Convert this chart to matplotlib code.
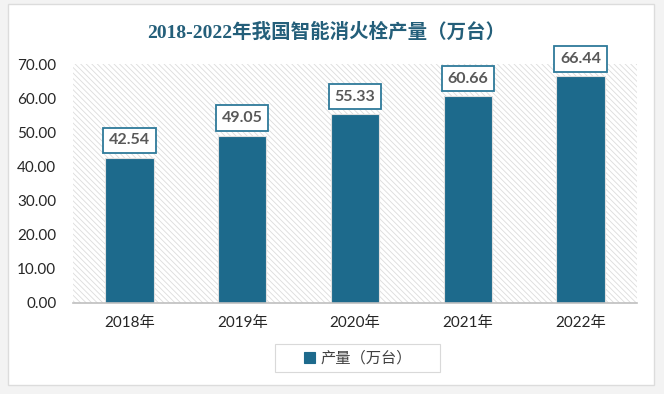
import matplotlib
matplotlib.use("Agg")
import matplotlib.pyplot as plt
import numpy as np
from matplotlib.patches import Rectangle

# data
years = ["2018年", "2019年", "2020年", "2021年", "2022年"]
output = [42.54, 49.05, 55.33, 60.66, 66.44]
series_name = "产量（万台）"
title = "2018-2022年我国智能消火栓产量（万台）"

bar_color = "#1D6A8C"
title_color = "#245F7A"
num_font = ["Lato", "Noto Sans CJK SC"]

plt.rcParams["hatch.linewidth"] = 0.6
plt.rcParams["hatch.color"] = "#dcdcdc"

W, H = 664, 394
fig = plt.figure(figsize=(6.64, 3.94), dpi=100, facecolor="#f3f3f3")


def fig_rect(x0, y0, x1, y1, **kw):
    # rectangle given in image pixel coordinates (top-left origin)
    return Rectangle((x0 / W, 1 - y1 / H), (x1 - x0) / W, (y1 - y0) / H,
                     transform=fig.transFigure, **kw)


# white card with light border
fig.patches.append(fig_rect(8, 4, 654, 385, facecolor="white",
                            edgecolor="#dcdcdc", linewidth=1.0, zorder=-10))

ax = fig.add_axes([73 / W, 1 - 303 / H, 564 / W, 239 / H])
ax.set_facecolor("none")

# hatched plot background
ax.add_patch(Rectangle((0, 0), 1, 1, transform=ax.transAxes, facecolor="white",
                       edgecolor="#dcdcdc", hatch="\\" * 6, linewidth=0, zorder=0))

x = np.arange(len(years))
bars = ax.bar(x, output, width=0.43, color=bar_color, edgecolor="#e0e0e0",
              linewidth=0.8, zorder=2, label=series_name)

for xi, v in zip(x, output):
    ax.annotate(f"{v:.2f}", (xi, v), xytext=(0, 12.5), textcoords="offset points",
                ha="center", va="center", fontsize=11.5, fontweight="bold",
                color="#595959", family=num_font, zorder=4,
                bbox=dict(boxstyle="square,pad=0.36", facecolor="white",
                          edgecolor="#2E7A9A", linewidth=1.3))

ax.set_xlim(-0.5, len(years) - 0.5)
ax.set_ylim(0, 70)
ax.set_yticks(np.arange(0, 71, 10))
ax.set_yticklabels([f"{t:.2f}" for t in np.arange(0, 71, 10)])
ax.set_xticks(x)
ax.set_xticklabels(years)

for lbl in ax.get_yticklabels() + ax.get_xticklabels():
    lbl.set_family(num_font)
    lbl.set_fontsize(11)
    lbl.set_color("#262626")

ax.tick_params(axis="both", length=0)
ax.tick_params(axis="y", pad=12)
ax.tick_params(axis="x", pad=9)

for side in ["top", "right", "left"]:
    ax.spines[side].set_visible(False)
ax.spines["bottom"].set_color("#bfbfbf")
ax.spines["bottom"].set_linewidth(1.2)
ax.spines["bottom"].set_zorder(3)

fig.text(326 / W, 1 - 32 / H, title, ha="center", va="center",
         fontsize=14, fontweight="bold", color=title_color,
         family=["Liberation Serif", "Noto Sans CJK SC"])

# legend with its own wider frame
fig.patches.append(fig_rect(275, 344, 440, 372, facecolor="white",
                            edgecolor="#d9d9d9", linewidth=0.8, zorder=1))
leg = fig.legend(handles=[bars], labels=[series_name], loc="center",
                 bbox_to_anchor=(358 / W, 1 - 358 / H), frameon=False,
                 handlelength=0.7, handleheight=0.7, handletextpad=0.4,
                 prop={"family": ["Noto Sans CJK SC"], "size": 11})
leg.set_zorder(2)
for h in leg.legend_handles:
    h.set_edgecolor(bar_color)
for t in leg.get_texts():
    t.set_color("#404040")

fig.savefig("out.png", dpi=100, facecolor=fig.get_facecolor())
